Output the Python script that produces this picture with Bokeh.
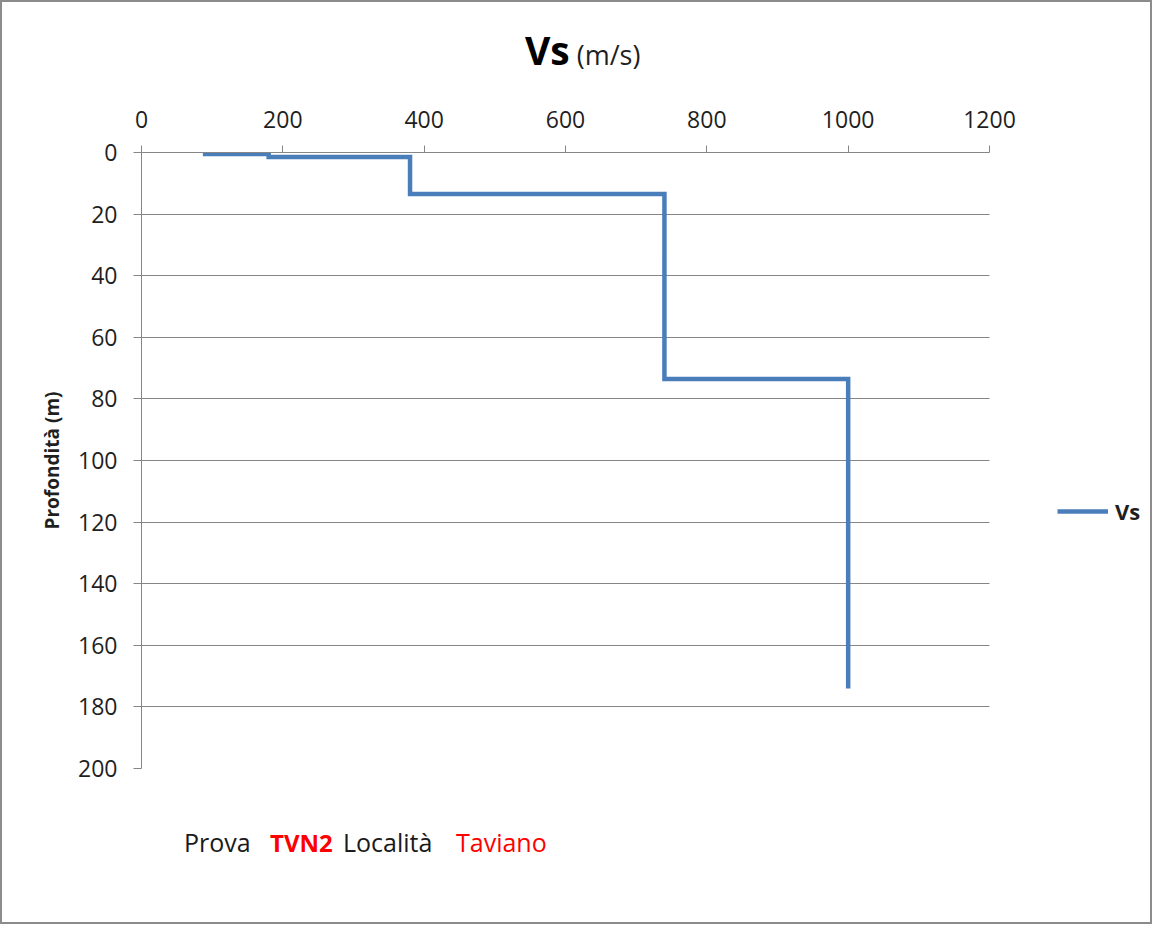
from bokeh.plotting import figure
from bokeh.layouts import column
from bokeh.models import Range1d, FixedTicker, Legend, LegendItem, Div
from bokeh.embed import file_html
from bokeh.resources import INLINE

# ---- data ----
vs = [90, 180, 380, 740, 1000]            # m/s
depth_top = [0, 0.5, 1.5, 13.5, 73.5]     # m
depth_bottom = [0.5, 1.5, 13.5, 73.5, 174]
x_ticks = [0, 200, 400, 600, 800, 1000, 1200]
y_ticks = [0, 20, 40, 60, 80, 100, 120, 140, 160, 180, 200]
x_min, x_max = 0, 1200
y_min, y_max = 0, 200
series_name = "Vs"
title_main = "Vs"
title_unit = "(m/s)"
y_title = "Profondità (m)"
footer_words = ["Prova", "TVN2", "Località", "Taviano"]

xs, ys = [], []
for v, t, b in zip(vs, depth_top, depth_bottom):
    xs += [v, v]
    ys += [t, b]

FONT = "Open Sans"
GRAY = "#868686"
TXT = "#1f1f1f"
W = 1148

# ---- title (HTML) ----
TH = 90
title_html = (
    f'<div style="position:relative;width:{W}px;height:{TH}px;font-family:\'{FONT}\';">'
    f'<div style="position:absolute;left:523px;top:28px;white-space:nowrap;'
    f'font-size:39px;line-height:1;">'
    f'<span style="font-weight:bold;color:#000;">{title_main}</span>'
    f'<span style="font-size:27px;color:{TXT};"> {title_unit}</span>'
    f'</div></div>'
)
pt = Div(text=title_html, width=W, height=TH, styles={"margin": "0", "padding": "0"})

# ---- main ----
MH = 716
LEFT = 139
PLOT_W = 848                     # pixel width of the 0..1200 span
frame_w = W - LEFT               # frame extends to the right edge (room for legend)
x_end = x_max * frame_w / PLOT_W

p = figure(width=W, height=MH, output_backend="svg", toolbar_location=None,
           x_range=Range1d(x_min, x_end), y_range=Range1d(y_max, y_min),
           x_axis_location="above",
           min_border_left=LEFT, min_border_right=0,
           min_border_top=60, min_border_bottom=40)
p.outline_line_color = None
p.background_fill_color = "white"
p.border_fill_color = "white"

for ax in (p.xaxis[0], p.yaxis[0]):
    ax.axis_line_color = GRAY
    ax.major_tick_line_color = GRAY
    ax.minor_tick_line_color = None
    ax.major_tick_in = 0
    ax.major_label_text_font = FONT
    ax.major_label_text_font_size = "23px"
    ax.major_label_text_color = TXT
p.xaxis[0].ticker = FixedTicker(ticks=x_ticks)
p.xaxis[0].bounds = (x_min, x_max)
p.yaxis[0].ticker = FixedTicker(ticks=y_ticks)
p.xaxis[0].major_tick_out = 7
p.yaxis[0].major_tick_out = 8
p.xaxis[0].major_label_standoff = 18
p.yaxis[0].major_label_standoff = 16
p.yaxis[0].axis_label = y_title
p.yaxis[0].axis_label_text_font = FONT
p.yaxis[0].axis_label_text_font_style = "bold"
p.yaxis[0].axis_label_text_font_size = "19px"
p.yaxis[0].axis_label_text_color = TXT
p.yaxis[0].axis_label_standoff = 10

p.xgrid.grid_line_color = None
p.ygrid.ticker = FixedTicker(ticks=y_ticks)
p.ygrid.grid_line_color = GRAY
p.ygrid.grid_line_width = 1
p.ygrid.cross_bounds = (x_min, x_max)

r = p.line(xs, ys, line_color="#4A7EBB", line_width=4.5, line_join="miter")

legend = Legend(items=[LegendItem(label=series_name, renderers=[r])],
                location=(916, 242), padding=0, margin=0, spacing=0,
                glyph_width=51, glyph_height=24, label_standoff=7,
                border_line_color=None, background_fill_alpha=0,
                label_text_font=FONT, label_text_font_size="22px",
                label_text_font_style="bold", label_text_color=TXT)
p.add_layout(legend, "center")

# ---- footer (HTML) ----
FH = 114
footer_x = [182, 268, 341, 454]
footer_col = ["#1a1a1a", "#ff0000", "#1a1a1a", "#ff0000"]
footer_wt = ["normal", "bold", "normal", "normal"]
footer_sz = [25, 24, 25, 25]
spans = "".join(
    f'<span style="position:absolute;left:{x}px;top:{22 + (25 - s) * 0.9:.1f}px;white-space:nowrap;'
    f'color:{c};font-weight:{w};font-size:{s}px;">{t}</span>'
    for t, x, c, w, s in zip(footer_words, footer_x, footer_col, footer_wt, footer_sz)
)
footer_html = (
    f'<div style="position:relative;width:{W}px;height:{FH}px;font-family:\'{FONT}\';'
    f'font-size:25px;line-height:1;">{spans}</div>'
)
pf = Div(text=footer_html, width=W, height=FH, styles={"margin": "0", "padding": "0"})

layout = column(pt, p, pf, spacing=0)
layout.styles = {"border": "2px solid #8c8c8c", "background-color": "white"}

open("out.html", "w").write(file_html(layout, INLINE))
